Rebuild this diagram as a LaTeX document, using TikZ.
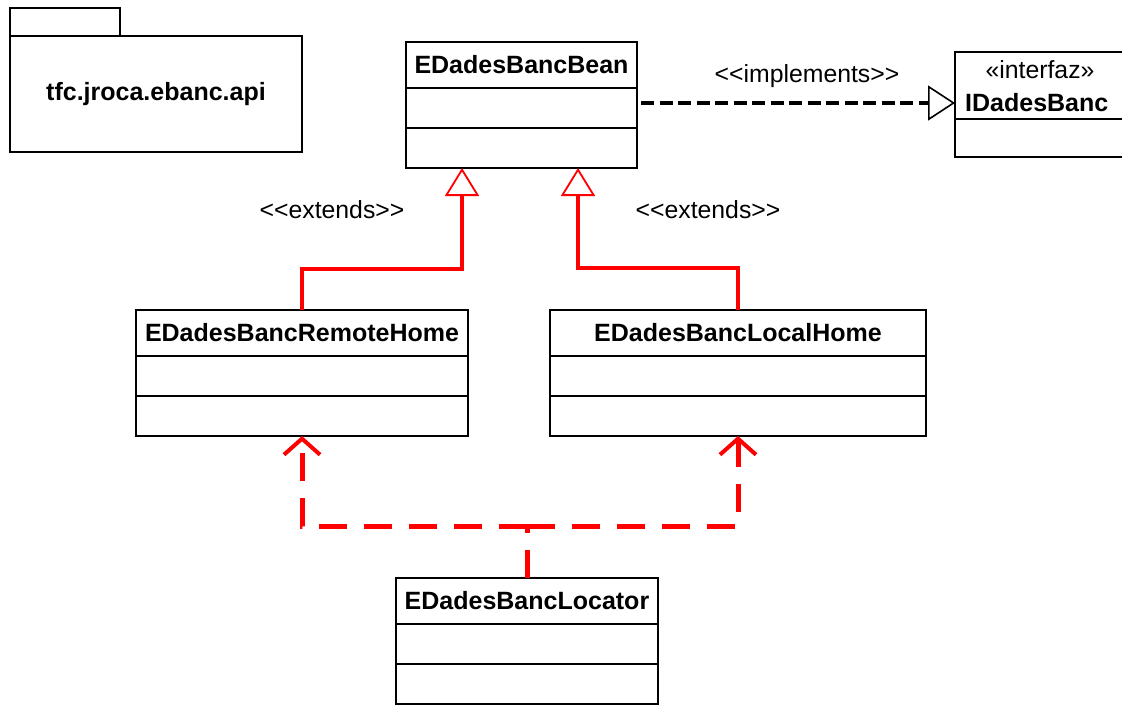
\documentclass[tikz,border=0pt]{standalone}
\usepackage{fontspec}
\setmainfont{Liberation Sans}[Ligatures=TeXOff]
\usetikzlibrary{arrows.meta,positioning}
\definecolor{ured}{RGB}{255,0,0}
\begin{document}
\begin{tikzpicture}[x=1pt,y=-1pt,
  box/.style={draw=black, line width=1.8pt, fill=white, inner sep=0pt, outer sep=0pt},
  clsname/.style={box, minimum height=46pt, font=\bfseries\fontsize{25}{29}\selectfont},
  comp/.style={box, minimum height=40pt},
  lbl/.style={font=\fontsize{24.8}{29}\selectfont, inner sep=0pt},
  blbl/.style={font=\bfseries\fontsize{25}{29}\selectfont, inner sep=0pt},
  gen/.style={draw=ured, line width=4pt, -{Triangle[open, fill=white, length=28pt, width=34pt, line width=1.8pt]}},
  impl/.style={draw=black, line width=3.5pt, dash pattern=on 13pt off 5.5pt, -{Triangle[open, fill=white, length=27pt, width=35pt, line width=1.6pt]}},
  dep/.style={draw=ured, line width=5pt, dash pattern=on 28pt off 17pt},
  deparrow/.style={dep, -{Straight Barb[length=16pt, width=36pt, line width=4pt]}}
]
\useasboundingbox (0,0) rectangle (1122,705);

% package
\node[box, minimum width=110pt, minimum height=28pt] (pkgtab) at (65,22) {};
\node[box, minimum width=292pt, minimum height=116pt] (pkg) at (156,94) {};
\node[blbl, anchor=base] (pkgname) at (156,100) {tfc.jroca.ebanc.api};

% EDadesBancBean
\node[clsname, minimum width=231pt] (bean) at (521.5,65) {EDadesBancBean};
\node[comp, minimum width=231pt, below=0pt of bean] (beanA) {};
\node[comp, minimum width=231pt, below=0pt of beanA] (beanB) {};

% IDadesBanc interface
\node[box, minimum width=180pt, minimum height=67pt] (iface) at (1045,85.5) {};
\node[box, minimum width=180pt, minimum height=38pt, below=0pt of iface] (ifaceA) {};
\node[lbl] (ster) at (1040,70) {«interfaz»};
\node[blbl, anchor=west] (ifname) at (965,103) {IDadesBanc};

% EDadesBancRemoteHome
\node[clsname, minimum width=332pt] (remote) at (302,333) {EDadesBancRemoteHome};
\node[comp, minimum width=332pt, below=0pt of remote] (remoteA) {};
\node[comp, minimum width=332pt, below=0pt of remoteA] (remoteB) {};

% EDadesBancLocalHome
\node[clsname, minimum width=376pt] (local) at (738,333) {EDadesBancLocalHome};
\node[comp, minimum width=376pt, below=0pt of local] (localA) {};
\node[comp, minimum width=376pt, below=0pt of localA] (localB) {};

% EDadesBancLocator
\node[clsname, minimum width=262pt] (locator) at (527,601) {EDadesBancLocator};
\node[comp, minimum width=262pt, below=0pt of locator] (locatorA) {};
\node[comp, minimum width=262pt, below=0pt of locatorA] (locatorB) {};

% labels
\node[lbl, anchor=base] (implbl) at (807,82) {<<implements>>};
\node[lbl, anchor=base] (extl) at (332,218) {<<extends>>};
\node[lbl, anchor=base] (extr) at (708,218) {<<extends>>};

% generalizations
\draw[gen] (remote.north) -- ++(0,-41) -| ([xshift=-59.5pt]beanB.south);
\draw[gen] (local.north) -- ++(0,-42) -| ([xshift=56.5pt]beanB.south);

% realization
\coordinate (impltip) at ([yshift=-17.5pt]iface.west);
\coordinate (implstart) at ([xshift=4pt]beanA.east);
\draw[impl] (implstart |- impltip) -- (impltip);

% dependencies
\coordinate (j) at ([yshift=52pt]locator.north);
\draw[dep] (locator.north) -- (j);
\draw[deparrow] (j) -| (remoteB.south);
\draw[deparrow] (j) -| (localB.south);
\end{tikzpicture}
\end{document}
